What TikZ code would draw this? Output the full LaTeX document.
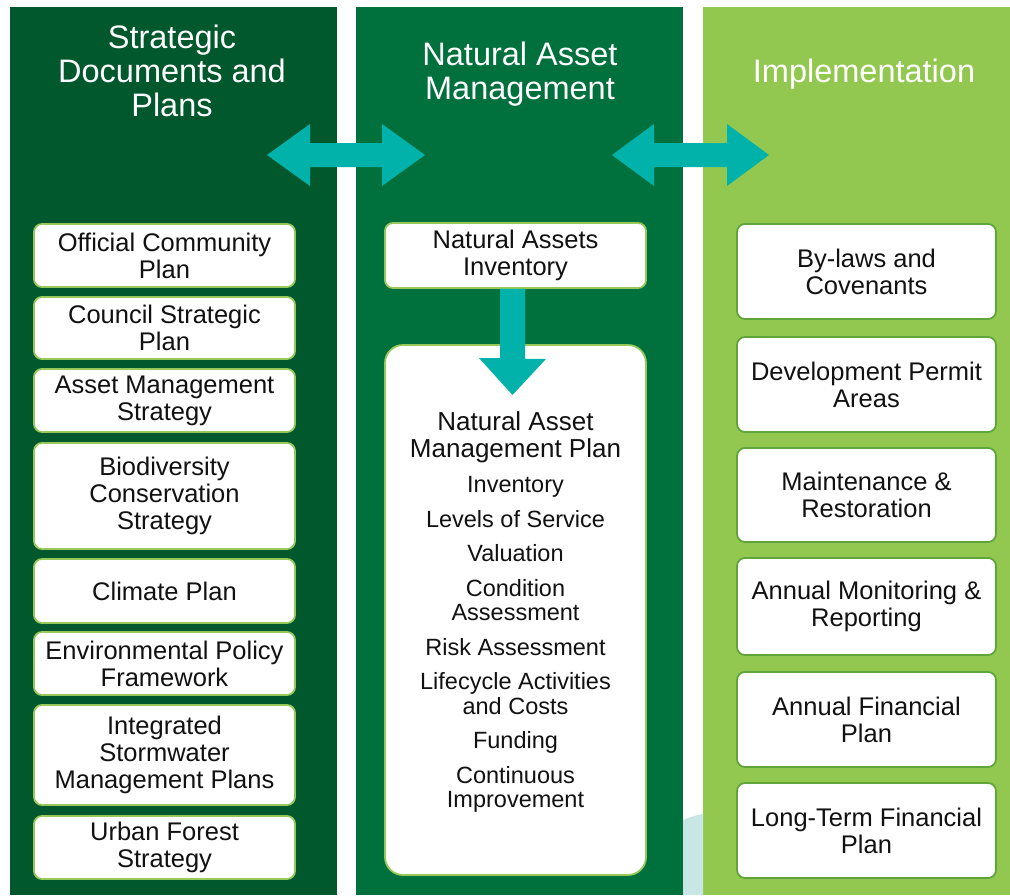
\documentclass[tikz,border=0pt]{standalone}
\usepackage{fontspec}
\setmainfont{Liberation Sans}
\usetikzlibrary{calc}
\definecolor{colA}{RGB}{0,88,44}
\definecolor{colB}{RGB}{0,113,60}
\definecolor{colC}{RGB}{146,200,80}
\definecolor{arrowteal}{RGB}{0,178,169}
\definecolor{lborder}{RGB}{150,200,90}
\definecolor{rborder}{RGB}{95,165,60}
\definecolor{paleblue}{RGB}{200,230,228}
\definecolor{boxtext}{RGB}{17,17,17}
\begin{document}
\begin{tikzpicture}[x=1pt,y=-1pt,
  header/.style={text=white, align=center, inner sep=0pt, font=\fontsize{32.5}{34}\selectfont},
  wbox/.style={fill=white, rounded corners=8pt, line width=1.8pt, inner sep=0pt,
     text=boxtext, align=center, font=\fontsize{25.5}{27}\selectfont},
  lbox/.style={wbox, draw=lborder, minimum width=261pt},
  rbox/.style={wbox, draw=rborder, minimum width=259pt},
  itemtext/.style={text=boxtext, align=center, inner sep=0pt, font=\fontsize{23.5}{24.5}\selectfont},
  titletext/.style={text=boxtext, align=center, inner sep=0pt, font=\fontsize{26}{27}\selectfont},
  bigarrow/.style={fill=arrowteal}
]
\useasboundingbox (0,0) rectangle (1010,895);
\fill[white] (0,0) rectangle (1010,895);
% columns
\fill[colA] (10,7) rectangle (337,895);
\fill[colB] (356,7) rectangle (683,895);
\fill[colC] (703,7) rectangle (1010,895);
\fill[paleblue] (683,820) .. controls (690,817) and (697,815) .. (703,814) -- (703,895) -- (683,895) -- cycle;

% headers
\node[header, anchor=north] (h1) at (172,24.5) {Strategic\\Documents and\\Plans};
\node[header, anchor=north] (h2) at (520,41.5) {Natural Asset\\Management};
\node[header, anchor=base] (h3) at (864,82) {Implementation};

% double arrows
\coordinate (a1L) at (267,155);
\coordinate (a1R) at (425,155);
\fill[bigarrow] (a1L) -- ++(43,-31) -- ++(0,19) -- ++(72,0) -- ++(0,-19) -- (a1R)
   -- ++(-43,31) -- ++(0,-19) -- ++(-72,0) -- ++(0,19) -- cycle;
\coordinate (a2L) at (612,155);
\coordinate (a2R) at (769,155);
\fill[bigarrow] (a2L) -- ++(42,-31) -- ++(0,19) -- ++(73,0) -- ++(0,-19) -- (a2R)
   -- ++(-42,31) -- ++(0,-19) -- ++(-73,0) -- ++(0,19) -- cycle;

% left column
\node[lbox, minimum height=63pt] (l1) at (164.5,255.5) {Official Community\\Plan};
\node[lbox, minimum height=62pt] (l2) at (164.5,328) {Council Strategic\\Plan};
\node[lbox, minimum height=63pt] (l3) at (164.5,400.5) {Asset Management\\Strategy};
\node[lbox, minimum height=106pt] (l4) at (164.5,496) {Biodiversity\\Conservation\\Strategy};
\node[lbox, minimum height=64pt] (l5) at (164.5,591) {Climate Plan};
\node[lbox, minimum height=63pt] (l6) at (164.5,663.5) {Environmental Policy\\Framework};
\node[lbox, minimum height=100pt] (l7) at (164.5,755) {Integrated\\Stormwater\\Management Plans};
\node[lbox, minimum height=63pt] (l8) at (164.5,847.5) {Urban Forest\\Strategy};

% middle column
\node[lbox, minimum height=65pt] (inv) at (515.5,255.5) {Natural Assets\\Inventory};
\node[lbox, minimum height=530pt, rounded corners=18pt] (namp) at (515.5,610) {};
\node[titletext, anchor=north] (namptitle) at (515.5,411) {Natural Asset\\Management Plan};
\node[itemtext, anchor=north] (namplist) at (515.5,476.2) {Inventory\\[10pt]
Levels of Service\\[10pt]
Valuation\\[10pt]
Condition\\Assessment\\[10pt]
Risk Assessment\\[10pt]
Lifecycle Activities\\and Costs\\[10pt]
Funding\\[10pt]
Continuous\\Improvement};
\coordinate (dtop) at ([xshift=-3pt]inv.south);
\coordinate (dtip) at (512.5,395);
\fill[bigarrow] ($(dtop)+(-12.5,0)$) -- ++(25,0) -- ++(0,70) -- ++(21,0) -- (dtip)
   -- ++(-33.5,-37) -- ++(21,0) -- cycle;

% right column
\node[rbox, minimum height=95pt] (r1) at (866.5,271.5) {By-laws and\\Covenants};
\node[rbox, minimum height=95pt] (r2) at (866.5,384.5) {Development Permit\\Areas};
\node[rbox, minimum height=94pt] (r3) at (866.5,495) {Maintenance \&\\Restoration};
\node[rbox, minimum height=97pt] (r4) at (866.5,606.5) {Annual Monitoring \&\\Reporting};
\node[rbox, minimum height=95pt] (r5) at (866.5,719.5) {Annual Financial\\Plan};
\node[rbox, minimum height=95pt] (r6) at (866.5,830.5) {Long-Term Financial\\Plan};
\end{tikzpicture}
\end{document}
